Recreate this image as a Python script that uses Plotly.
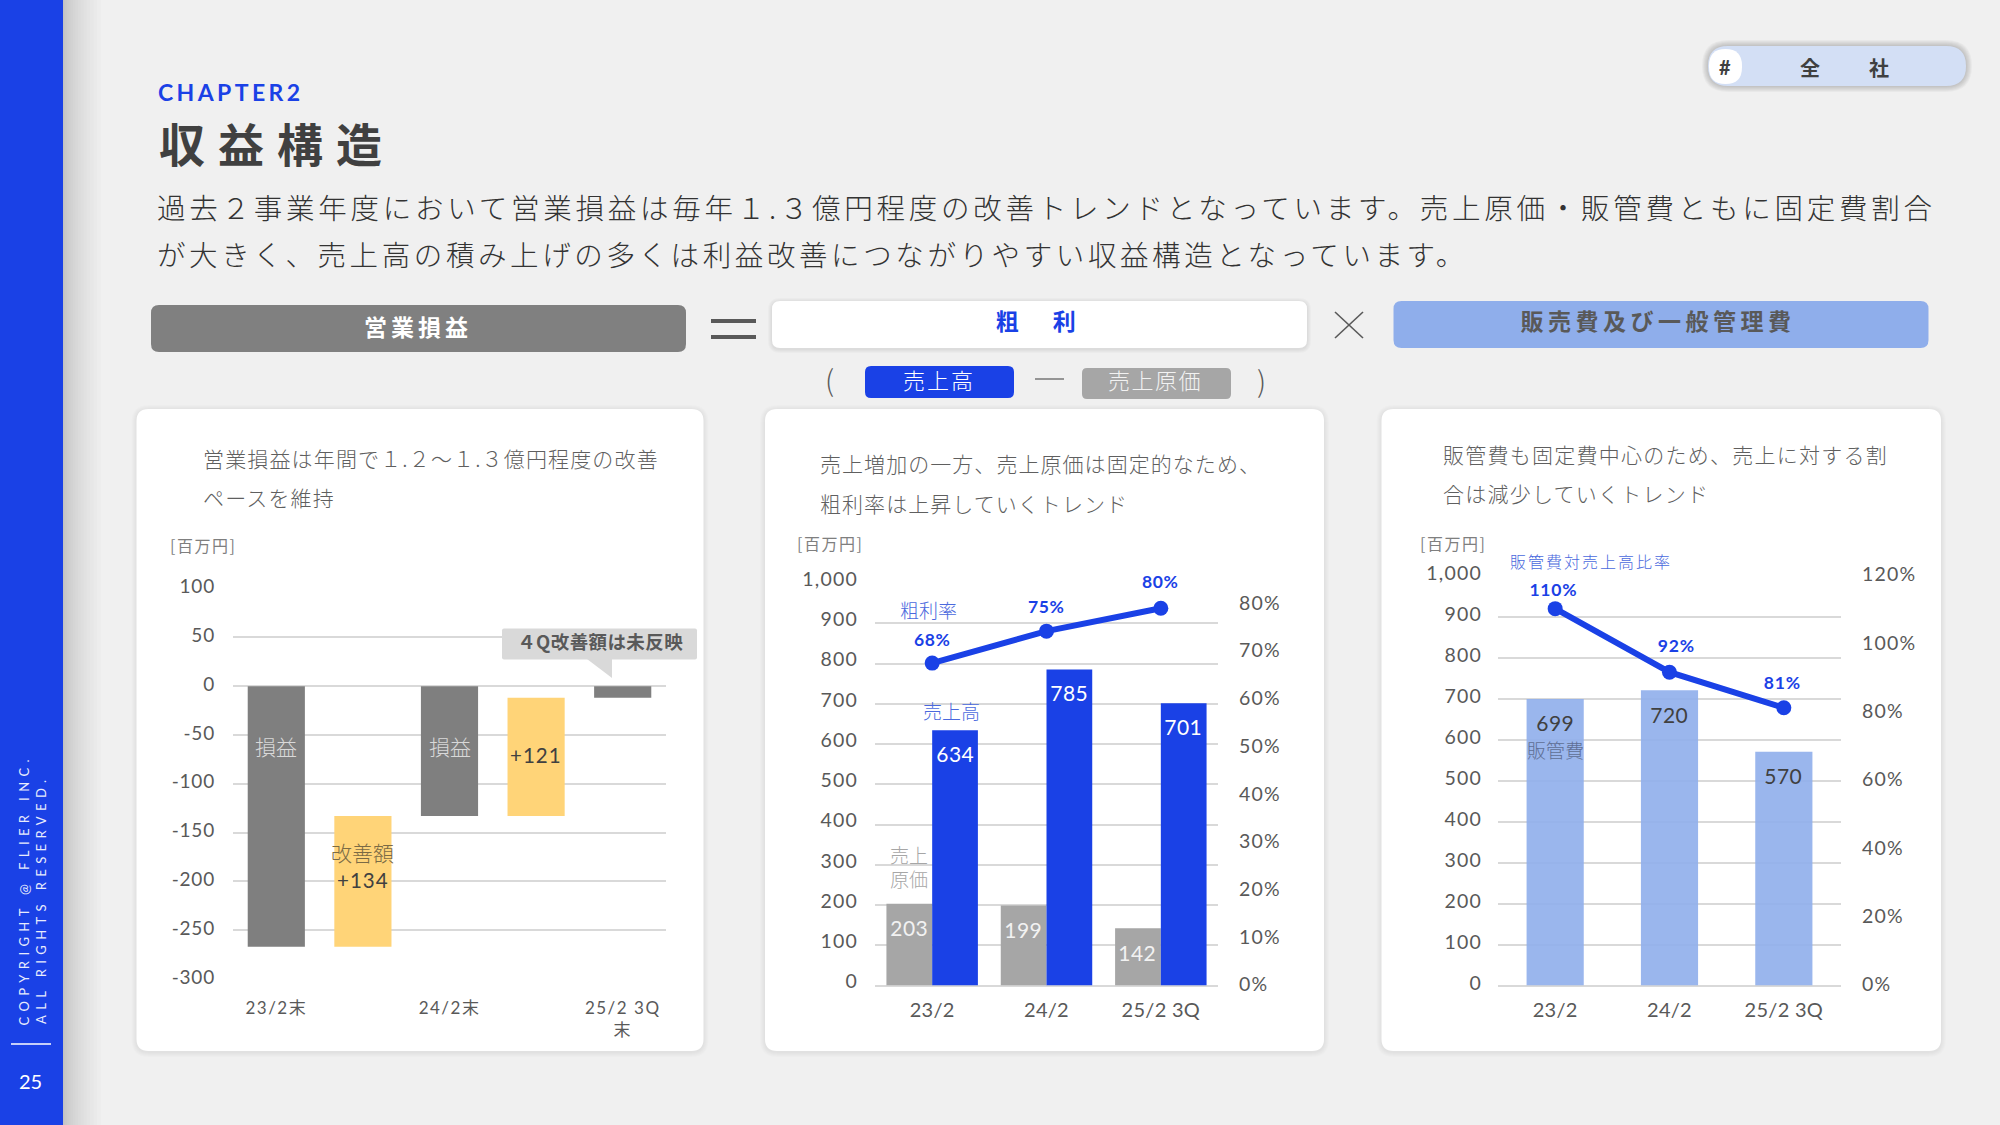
import json
import plotly.graph_objects as go

# ---------- data ----------
p1_ticks = [100, 50, 0, -50, -100, -150, -200, -250, -300]
p1_period_pos = [0, 2, 4]
p1_period_labels = ["23/2末", "24/2末", "25/2 3Q<br>末"]
p1_result = [-267, -133, -12]
p1_improve_pos = [1, 3]
p1_improve = [134, 121]

periods = ["23/2", "24/2", "25/2 3Q"]
p2_cost = [203, 199, 142]
p2_sales = [634, 785, 701]
p2_margin = [67.6, 74.3, 79.1]
p2_margin_labels = ["68%", "75%", "80%"]

p3_sga = [699, 720, 570]
p3_ratio = [110.3, 91.7, 81.3]
p3_ratio_labels = ["110%", "92%", "81%"]

left_ticks = [0, 100, 200, 300, 400, 500, 600, 700, 800, 900, 1000]
p2_right_ticks = [0, 10, 20, 30, 40, 50, 60, 70, 80]
p3_right_ticks = [0, 20, 40, 60, 80, 100, 120]

# ---------- style ----------
W, H = 2000, 1125
BG = "#F0F0F0"
BLUE = "#1A41E6"
LBLUE = "#8FAEEB"
GRAY = "#7F7F7F"
LGRAY = "#A6A6A6"
YELLOW = "#FFD478"
GRID = "#D9D9D9"
DARK = "#404040"
MID = "#595959"
SANS = "Lato, 'Noto Sans CJK JP', sans-serif"
JP = "'Noto Sans CJK JP', sans-serif"


def px(x):
    return x / W


def py(y):
    return 1 - y / H


def rr_path(x0, y0, x1, y1, r):
    pts = [
        f"M {px(x0 + r)} {py(y0)}", f"L {px(x1 - r)} {py(y0)}",
        f"Q {px(x1)} {py(y0)} {px(x1)} {py(y0 + r)}", f"L {px(x1)} {py(y1 - r)}",
        f"Q {px(x1)} {py(y1)} {px(x1 - r)} {py(y1)}", f"L {px(x0 + r)} {py(y1)}",
        f"Q {px(x0)} {py(y1)} {px(x0)} {py(y1 - r)}", f"L {px(x0)} {py(y0 + r)}",
        f"Q {px(x0)} {py(y0)} {px(x0 + r)} {py(y0)}", "Z",
    ]
    return " ".join(pts)


shapes = []


def rbox(x0, y0, x1, y1, r, color, opacity=1.0):
    shapes.append(dict(type="path", path=rr_path(x0, y0, x1, y1, r), xref="paper", yref="paper",
                       fillcolor=color, opacity=opacity, line=dict(width=0), layer="below"))


def shadow(x0, y0, x1, y1, r, n=5, op=0.012, dy=1):
    for i in range(n, 0, -1):
        rbox(x0 - i, y0 - i + dy, x1 + i, y1 + i + dy, r + i, "#000000", op)


def seg(x0, y0, x1, y1, color, w):
    shapes.append(dict(type="line", x0=px(x0), y0=py(y0), x1=px(x1), y1=py(y1), xref="paper", yref="paper",
                       line=dict(color=color, width=w), layer="below"))


anns = []
spacing = {}


def T(x, y, text, size, color, anchor="left", weight=400, sp=0, family=JP, angle=0):
    anns.append(dict(x=px(x), y=py(y), xref="paper", yref="paper", text=text, showarrow=False,
                     xanchor=anchor, yanchor="middle", align=anchor, textangle=angle, borderpad=0,
                     font=dict(size=size, color=color, family=family, weight=weight)))
    if sp:
        spacing[len(anns) - 1] = sp


def D(x, y, text, size, color, xref, yref, yshift=0, xshift=0, weight=400, sp=0, family=SANS):
    anns.append(dict(x=x, y=y, xref=xref, yref=yref, text=text, showarrow=False, yshift=yshift, xshift=xshift,
                     xanchor="center", yanchor="middle", borderpad=0,
                     font=dict(size=size, color=color, family=family, weight=weight)))
    if sp:
        spacing[len(anns) - 1] = sp


# ---------- page furniture ----------
for i in range(16):
    edge = 63 + 38 * ((16 - i) / 16) ** 1.6
    shapes.append(dict(type="rect", x0=0, x1=px(edge), y0=0, y1=1, xref="paper", yref="paper",
                       fillcolor="#000000", opacity=0.0105, line=dict(width=0), layer="below"))
shapes.append(dict(type="rect", x0=0, x1=px(63), y0=0, y1=1, xref="paper", yref="paper",
                   fillcolor=BLUE, line=dict(width=0), layer="below"))
seg(11, 1044, 51, 1044, "#FFFFFF", 1.5)
T(24, 890, "COPYRIGHT @ FLIER INC.", 13, "#E8ECFD", "center", sp=5.4, family=SANS, angle=-90)
T(41, 900, "ALL RIGHTS RESERVED.", 13, "#E8ECFD", "center", sp=5.4, family=SANS, angle=-90)
T(30.5, 1081, "25", 20, "#FFFFFF", "center", family=SANS)

T(157, 92, "CHAPTER2", 23, BLUE, weight=700, sp=3.4, family=SANS)
T(158, 142, "収益構造", 46, DARK, weight=700, sp=13)
T(156, 207, "過去２事業年度において営業損益は毎年１.３億円程度の改善トレンドとなっています。売上原価・販管費ともに固定費割合",
  28.5, "#333333", sp=3.75, weight=300)
T(156, 254, "が大きく、売上高の積み上げの多くは利益改善につながりやすい収益構造となっています。", 28.5, "#333333", sp=3.6, weight=300)

# top-right pill
shadow(1708, 46, 1966, 86, 20, n=6, op=0.03, dy=0)
rbox(1708, 46, 1966, 86, 20, "#D3DFF5")
rbox(1709, 49, 1742, 84, 16.5, "#FFFFFF")
T(1725, 67, "#", 20, DARK, "center", weight=700, family=SANS)
T(1810, 68, "全", 20, DARK, "center", weight=700)
T(1879, 68, "社", 20, DARK, "center", weight=700)

# formula row
rbox(151, 305, 686, 352, 8, "#808080")
T(418, 326, "営業損益", 23, "#FFFFFF", "center", weight=700, sp=4)
seg(711, 321, 756, 321, MID, 4)
seg(711, 337, 756, 337, MID, 4)
shadow(772, 301, 1307, 348, 8, n=4, op=0.02)
rbox(772, 301, 1307, 348, 8, "#FFFFFF")
T(1038, 320, "粗　利", 23, BLUE, "center", weight=700, sp=5.5)
seg(1335, 312, 1363, 338, MID, 1.6)
seg(1363, 312, 1335, 338, MID, 1.6)
rbox(1393.5, 301, 1928.5, 348, 8, LBLUE)
T(1658, 320, "販売費及び一般管理費", 23, MID, "center", weight=700, sp=4.5)
T(829, 378, "(", 29, MID, "center", weight=300)
rbox(865, 366, 1014, 398, 6, BLUE)
T(939, 378.5, "売上高", 22, "#FFFFFF", "center", sp=2, weight=300)
seg(1035, 379, 1064, 379, MID, 1.2)
rbox(1082, 368, 1231, 399, 5, LGRAY)
T(1155, 379, "売上原価", 22, "#F2F2F2", "center", sp=1.5, weight=300)
T(1261, 379, ")", 29, MID, "center", weight=300)

# panels
for x0, x1 in [(136.5, 703.5), (765, 1324), (1381.5, 1941)]:
    shadow(x0, 409, x1, 1051, 12)
    rbox(x0, 409, x1, 1051, 12, "#FFFFFF")

TXT = "#5F5F5F"
T(202, 458, "営業損益は年間で１.２～１.３億円程度の改善", 21, TXT, sp=1.15, weight=300)
T(202, 496.5, "ペースを維持", 21, TXT, sp=1.15, weight=300)
T(819, 463.5, "売上増加の一方、売上原価は固定的なため、", 21, TXT, sp=1.05, weight=300)
T(819, 502.5, "粗利率は上昇していくトレンド", 21, TXT, sp=1.05, weight=300)
T(1441.5, 454, "販管費も固定費中心のため、売上に対する割", 21, TXT, sp=1.25, weight=300)
T(1441.5, 492.5, "合は減少していくトレンド", 21, TXT, sp=1.25, weight=300)
T(169, 544.5, "[百万円]", 16, "#7F7F7F", sp=1.5)
T(796, 543.5, "[百万円]", 16, "#7F7F7F", sp=1.5)
T(1419, 543, "[百万円]", 16, "#7F7F7F", sp=1.5)

# callout
shapes.append(dict(type="path", xref="paper", yref="paper", layer="above", fillcolor="#D9D9D9", line=dict(width=0),
                   path=f"M {px(587)} {py(659)} L {px(612)} {py(678)} L {px(612)} {py(659)} Z"))
shapes.append(dict(type="path", xref="paper", yref="paper", layer="above", fillcolor="#D9D9D9", line=dict(width=0),
                   path=rr_path(502, 628.6, 697, 659.4, 2)))
T(600, 641, "４Q改善額は未反映", 18.5, MID, "center", weight=700, sp=0.4)

# ---------- charts ----------
fig = go.Figure()

fig.add_bar(x=p1_period_pos, y=p1_result, width=0.66, offset=-0.33, marker=dict(color=GRAY, line=dict(width=0)),
            xaxis="x", yaxis="y", name="営業損益", showlegend=False)
fig.add_bar(x=p1_improve_pos, y=p1_improve, base=p1_result[:2], width=0.66, offset=-0.33,
            marker=dict(color=YELLOW, line=dict(width=0)), xaxis="x", yaxis="y", name="改善額", showlegend=False)

fig.add_bar(x=[0, 1, 2], y=p2_cost, width=0.4, offset=-0.4, marker=dict(color=LGRAY, line=dict(width=0)),
            xaxis="x2", yaxis="y2", name="売上原価", showlegend=False)
fig.add_bar(x=[0, 1, 2], y=p2_sales, width=0.4, offset=0, marker=dict(color=BLUE, line=dict(width=0)),
            xaxis="x2", yaxis="y2", name="売上高", showlegend=False)
fig.add_scatter(x=[0, 1, 2], y=p2_margin, mode="lines+markers", line=dict(color=BLUE, width=6),
                marker=dict(size=15, color=BLUE), xaxis="x2", yaxis="y3", name="粗利率", showlegend=False)

fig.add_bar(x=[0, 1, 2], y=p3_sga, width=0.5, offset=-0.25, marker=dict(color=LBLUE, opacity=0.9, line=dict(width=0)),
            xaxis="x3", yaxis="y4", name="販管費", showlegend=False)
fig.add_scatter(x=[0, 1, 2], y=p3_ratio, mode="lines+markers", line=dict(color=BLUE, width=6),
                marker=dict(size=15, color=BLUE), xaxis="x3", yaxis="y5", name="販管費対売上高比率", showlegend=False)

# panel 1 labels
D(0, -61, "損益", 21, "#D9D9D9", "x", "y", family=JP, weight=300)
D(2, -61, "損益", 21, "#D9D9D9", "x", "y", family=JP, weight=300)
D(1, -170, "改善額", 21, "#7A6A45", "x", "y", family=JP, weight=300)
D(1, -198.5, f"+{p1_improve[0]}", 20.5, DARK, "x", "y", sp=1)
D(3, -70.5, f"+{p1_improve[1]}", 20.5, DARK, "x", "y", sp=1)

# panel 2 labels
margin_shift = [24, 25, 26.5]
for i in range(3):
    D(i - 0.2, p2_cost[i], str(p2_cost[i]), 21, "#F2F2F2", "x2", "y2", yshift=-24, sp=0.5)
    D(i + 0.2, p2_sales[i], str(p2_sales[i]), 21, "#FFFFFF", "x2", "y2", yshift=-23, sp=0.5)
    D(i, p2_margin[i], p2_margin_labels[i], 17.5, BLUE, "x2", "y3", yshift=margin_shift[i], weight=700, sp=0.6)
T(928, 609, "粗利率", 19, "#4A69DD", "center", weight=300)
T(951.5, 710, "売上高", 19, "#4A69DD", "center", weight=300)
T(909, 854, "売上", 19, "#A6A6A6", "center", weight=300)
T(909, 878.5, "原価", 19, "#A6A6A6", "center", weight=300)

# panel 3 labels
ratio_shift = [(19, -2), (27, 7), (25, -1)]
for i in range(3):
    D(i, p3_sga[i], str(p3_sga[i]), 21, DARK, "x3", "y4", yshift=-24, sp=0.5)
    D(i, p3_ratio[i], p3_ratio_labels[i], 17.5, BLUE, "x3", "y5", yshift=ratio_shift[i][0], xshift=ratio_shift[i][1],
      weight=700, sp=0.8)
T(1555.5, 749.5, "販管費", 19, "#5F6F95", "center", weight=300)
T(1509, 561, "販管費対売上高比率", 16, "#4A69DD", sp=2, weight=300)

tickfont = dict(size=19.5, color=MID, family=SANS)


def xdom(a, b):
    return [px(a), px(b)]


def ydom(top, bottom):
    return [py(bottom), py(top)]


layout_axes = dict(
    xaxis=dict(domain=xdom(233, 666), range=[-0.5, 4.5], tickmode="array", tickvals=p1_period_pos,
               ticktext=p1_period_labels, showgrid=False, zeroline=False, showline=False, anchor="y", automargin=False,
               tickfont=dict(size=17, color=MID, family=SANS), ticks="", ticklabelstandoff=17),
    yaxis=dict(domain=ydom(588.5, 979), range=[-300, 100], tickmode="array", tickvals=p1_ticks,
               ticktext=[str(v) for v in p1_ticks], showgrid=True, automargin=False,
               gridcolor=GRID, gridwidth=1.5, zeroline=True, zerolinecolor=GRID, zerolinewidth=1.5, anchor="x",
               tickfont=dict(size=19, color=MID, family=SANS), ticks="", ticklabelstandoff=17, ticklabelshift=-2),
    xaxis2=dict(domain=xdom(875, 1218), range=[-0.5, 2.5], tickmode="array", tickvals=[0, 1, 2], ticktext=periods,
                showgrid=False, zeroline=False, showline=False, anchor="y2", automargin=False,
                tickfont=dict(size=20, color=MID, family=SANS), ticks="", ticklabelstandoff=10),
    yaxis2=dict(domain=ydom(583, 985.5), range=[0, 1000], tickmode="array", tickvals=left_ticks, showgrid=True,
                gridcolor=GRID, gridwidth=1.5, zeroline=True, zerolinecolor=GRID, zerolinewidth=1.5, anchor="x2",
                tickformat=",d", tickfont=tickfont, ticks="", ticklabelstandoff=16, automargin=False, ticklabelshift=-4),
    yaxis3=dict(domain=ydom(583, 985.5), range=[0, 84.4], tickmode="array", tickvals=p2_right_ticks,
                ticktext=[f"{v}%" for v in p2_right_ticks], showgrid=False, zeroline=False, overlaying="y2",
                side="right", anchor="x2", tickfont=tickfont, ticks="", ticklabelstandoff=20, automargin=False,
                ticklabelshift=-1),
    xaxis3=dict(domain=xdom(1498, 1841), range=[-0.5, 2.5], tickmode="array", tickvals=[0, 1, 2], ticktext=periods,
                showgrid=False, zeroline=False, showline=False, anchor="y4", automargin=False,
                tickfont=dict(size=20, color=MID, family=SANS), ticks="", ticklabelstandoff=10),
    yaxis4=dict(domain=ydom(575.5, 985.5), range=[0, 1000], tickmode="array", tickvals=left_ticks, showgrid=True,
                gridcolor=GRID, gridwidth=1.5, zeroline=True, zerolinecolor=GRID, zerolinewidth=1.5, anchor="x3",
                tickformat=",d", tickfont=tickfont, ticks="", ticklabelstandoff=15, automargin=False, ticklabelshift=-2),
    yaxis5=dict(domain=ydom(575.5, 985.5), range=[0, 120], tickmode="array", tickvals=p3_right_ticks,
                ticktext=[f"{v}%" for v in p3_right_ticks], showgrid=False, zeroline=False, overlaying="y4",
                side="right", anchor="x3", tickfont=tickfont, ticks="", ticklabelstandoff=20, automargin=False,
                ticklabelshift=-1),
)

fig.update_layout(width=W, height=H, autosize=False, margin=dict(l=0, r=0, t=0, b=0, pad=0), paper_bgcolor=BG,
                  plot_bgcolor="rgba(0,0,0,0)", barmode="overlay", showlegend=False, shapes=shapes, annotations=anns,
                  font=dict(family=SANS), **layout_axes)

post = """
document.body.style.margin='0';
var sp=%s;
function applySpacing(){
  Object.keys(sp).forEach(function(k){
    document.querySelectorAll('g.annotation[data-index="'+k+'"] text').forEach(function(t){
      t.style.letterSpacing=sp[k]+'px';
    });
  });
  document.querySelectorAll('g.xtick text').forEach(function(t){t.style.letterSpacing='1.5px';});
  document.querySelectorAll('g.ytick text').forEach(function(t){t.style.letterSpacing='0.8px';});
  document.querySelectorAll('g.x2tick text, g.x3tick text').forEach(function(t){t.style.letterSpacing='0.3px';});
  document.querySelectorAll('g.y2tick text, g.y3tick text, g.y4tick text, g.y5tick text').forEach(function(t){t.style.letterSpacing='1.2px';});
}
applySpacing();setTimeout(applySpacing,50);setTimeout(applySpacing,400);
""" % json.dumps(spacing)

fig.write_html("out.html", post_script=post, config=dict(displayModeBar=False))
